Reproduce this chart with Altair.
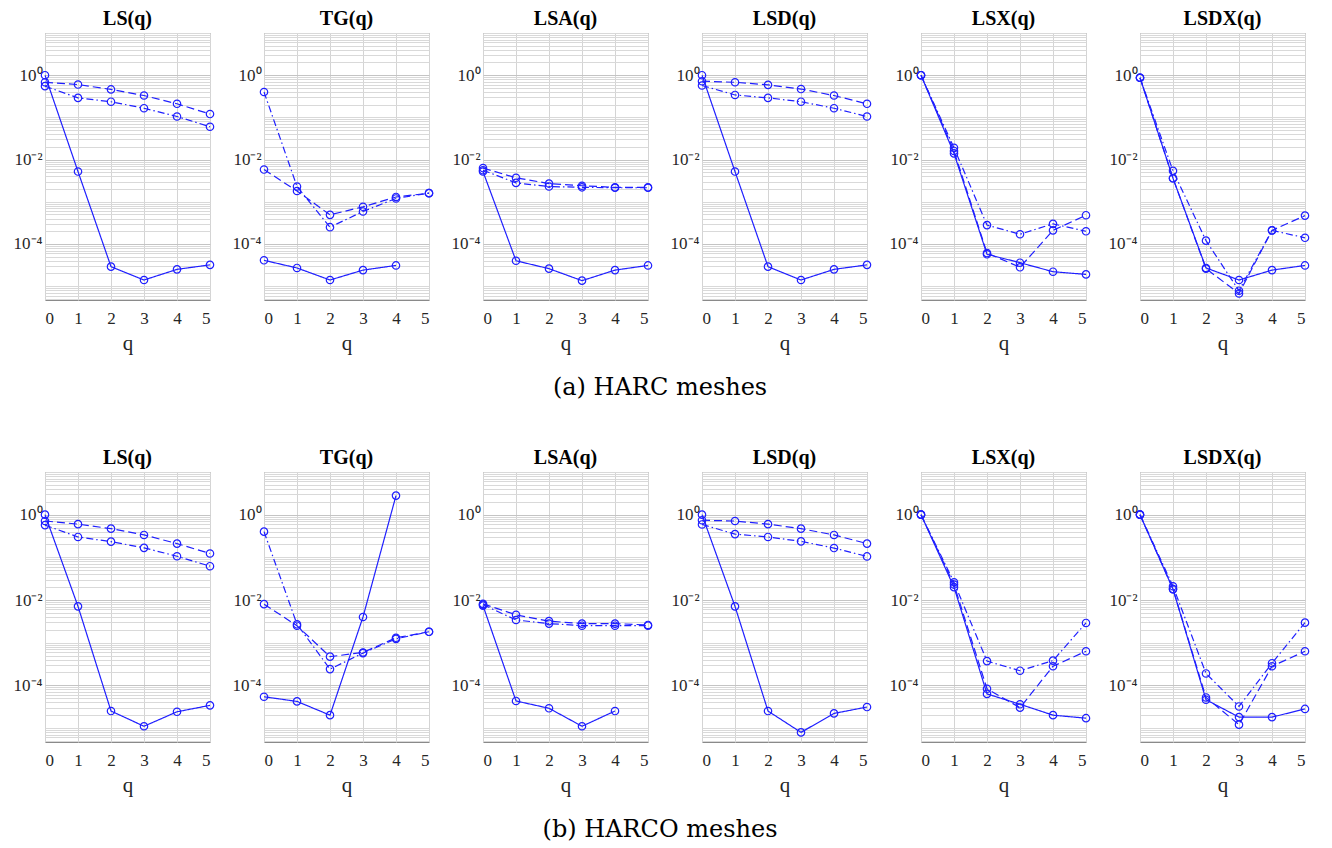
import altair as alt
import pandas as pd

Q = [0, 1, 2, 3, 4, 5]
SERIES = ["solid", "dash", "dashdot"]

# ---- (a) HARC meshes ----
A_LS_solid = [1.0, 5.2e-3, 2.9e-5, 1.4e-5, 2.5e-5, 3.2e-5]
A_LS_dash = [0.68, 0.60, 0.46, 0.33, 0.21, 0.12]
A_LS_dashdot = [0.55, 0.29, 0.235, 0.165, 0.105, 0.06]
A_TG_solid = [4.1e-5, 2.7e-5, 1.4e-5, 2.4e-5, 3.1e-5, None]
A_TG_dash = [5.8e-3, 1.8e-3, 4.9e-4, 7.6e-4, 1.3e-3, 1.6e-3]
A_TG_dashdot = [0.40, 2.3e-3, 2.5e-4, 5.9e-4, 1.2e-3, 1.6e-3]
A_LSA_solid = [5.2e-3, 4.0e-5, 2.6e-5, 1.35e-5, 2.4e-5, 3.1e-5]
A_LSA_dash = [6.3e-3, 3.7e-3, 2.7e-3, 2.4e-3, 2.2e-3, 2.2e-3]
A_LSA_dashdot = [5.6e-3, 2.8e-3, 2.3e-3, 2.2e-3, 2.15e-3, 2.15e-3]
A_LSD_solid = [1.0, 5.2e-3, 2.9e-5, 1.4e-5, 2.5e-5, 3.2e-5]
A_LSD_dash = [0.72, 0.68, 0.59, 0.47, 0.33, 0.21]
A_LSD_dashdot = [0.57, 0.34, 0.29, 0.235, 0.165, 0.105]
A_LSX_solid = [1.0, 1.4e-2, 5.7e-5, 3.6e-5, 2.2e-5, 1.9e-5]
A_LSX_dash = [1.0, 1.6e-2, 6.1e-5, 2.8e-5, 2.1e-4, 4.8e-4]
A_LSX_dashdot = [1.0, 1.9e-2, 2.8e-4, 1.7e-4, 3.0e-4, 2.0e-4]
A_LSDX_solid = [0.87, 3.6e-3, 2.7e-5, 1.4e-5, 2.4e-5, 3.1e-5]
A_LSDX_dash = [0.87, 3.6e-3, 2.6e-5, 6.7e-6, 2.1e-4, 4.7e-4]
A_LSDX_dashdot = [0.87, 5.4e-3, 1.2e-4, 7.8e-6, 2.1e-4, 1.4e-4]

# ---- (b) HARCO meshes ----
B_LS_solid = [1.0, 7.1e-3, 2.5e-5, 1.1e-5, 2.4e-5, 3.4e-5]
B_LS_dash = [0.71, 0.60, 0.47, 0.335, 0.21, 0.123]
B_LS_dashdot = [0.57, 0.30, 0.233, 0.167, 0.106, 0.062]
B_TG_solid = [5.4e-5, 4.2e-5, 2.0e-5, 4.0e-3, 2.8, None]
B_TG_dash = [8.0e-3, 2.5e-3, 4.7e-4, 5.9e-4, 1.3e-3, 1.8e-3]
B_TG_dashdot = [0.40, 2.7e-3, 2.4e-4, 5.7e-4, 1.23e-3, 1.8e-3]
B_LSA_solid = [7.4e-3, 4.3e-5, 2.9e-5, 1.1e-5, 2.5e-5, None]
B_LSA_dash = [8.1e-3, 4.5e-3, 3.2e-3, 2.8e-3, 2.8e-3, 2.6e-3]
B_LSA_dashdot = [7.8e-3, 3.4e-3, 2.8e-3, 2.5e-3, 2.5e-3, 2.5e-3]
B_LSD_solid = [1.0, 7.1e-3, 2.5e-5, 7.9e-6, 2.2e-5, 3.1e-5]
B_LSD_dash = [0.74, 0.71, 0.60, 0.47, 0.335, 0.21]
B_LSD_dashdot = [0.59, 0.35, 0.30, 0.237, 0.165, 0.105]
B_LSX_solid = [1.0, 2.0e-2, 6.3e-5, 3.6e-5, 2.0e-5, 1.7e-5]
B_LSX_dash = [1.0, 2.3e-2, 8.3e-5, 3.0e-5, 2.8e-4, 6.3e-4]
B_LSX_dashdot = [1.0, 2.6e-2, 3.7e-4, 2.2e-4, 3.8e-4, 2.9e-3]
B_LSDX_solid = [1.0, 1.8e-2, 4.6e-5, 1.8e-5, 1.8e-5, 2.8e-5]
B_LSDX_dash = [1.0, 1.8e-2, 5.2e-5, 1.2e-5, 2.8e-4, 6.3e-4]
B_LSDX_dashdot = [1.0, 2.1e-2, 1.9e-4, 3.2e-5, 3.3e-4, 2.95e-3]

TITLES = ["LS(q)", "TG(q)", "LSA(q)", "LSD(q)", "LSX(q)", "LSDX(q)"]
CAPTION_A = "(a) HARC meshes"
CAPTION_B = "(b) HARCO meshes"

Y_LABEL_EXP = [0, -2, -4]
Y_LABEL_TEXT = ["10\u2070", "10\u207b\u00b2", "10\u207b\u2074"]
YMIN, YMAX = 4.7e-6, 10.0

BLUE = "#1f1fff"
FONT = "Liberation Serif"
TXT = "#262626"

label_vals = [10.0 ** e for e in Y_LABEL_EXP]
expr = "''"
for e, t in zip(reversed(Y_LABEL_EXP), reversed(Y_LABEL_TEXT)):
    expr = f"round(log(datum.value)/LN10) == {e} ? '{t}' : ({expr})"

major_vals = [10.0 ** k for k in range(-5, 2)]
minor_vals = []
for k in range(-6, 2):
    for m in range(2, 10):
        v = m * 10.0 ** k
        if YMIN <= v <= YMAX:
            minor_vals.append(v)


def panel(title, solid, dash, dashdot, height):
    rows = []
    for name, vals in zip(SERIES, (solid, dash, dashdot)):
        for q, v in zip(Q, vals):
            if v is not None:
                rows.append({"q": q, "v": v, "s": name})
    df = pd.DataFrame(rows)
    xs = alt.X(
        "q:Q",
        scale=alt.Scale(domain=[0, 5], nice=False, zero=False),
        axis=alt.Axis(values=Q, format="d", title="q", grid=True, gridColor="#d4d4d4",
                      ticks=False, domain=False, labelFont=FONT, labelFontSize=17,
                      labelColor=TXT, titleFont=FONT, titleFontSize=21,
                      titleFontWeight="normal", titleColor=TXT, labelPadding=10,
                      titlePadding=6),
    )
    yscale = alt.Scale(type="log", domain=[YMIN, YMAX], nice=False)
    grid = alt.Chart(df).mark_point(opacity=0).encode(
        x=xs,
        y=alt.Y("v:Q", scale=yscale,
                axis=alt.Axis(orient="right", values=minor_vals + major_vals, labels=False,
                              ticks=False, domain=False, grid=True, gridColor="#d9d9d9",
                              title=None, minExtent=0, maxExtent=0)),
    )
    lines = alt.Chart(df).mark_line(color=BLUE, strokeWidth=1.2).encode(
        x=xs,
        y=alt.Y("v:Q", scale=yscale,
                axis=alt.Axis(values=label_vals, labelExpr=expr, grid=True,
                              gridColor="#c4c4c4", ticks=False, domain=False, title=None,
                              minExtent=36, maxExtent=36, labelPadding=3, labelFont=FONT,
                              labelFontSize=17, labelColor=TXT)),
        strokeDash=alt.StrokeDash("s:N", scale=alt.Scale(domain=SERIES,
                                  range=[[1, 0], [8, 4], [7, 3, 1.5, 3]]), legend=None),
        detail="s:N",
    )
    pts = alt.Chart(df).mark_point(shape="circle", filled=False, color=BLUE, size=55,
                                   strokeWidth=1.2, opacity=1).encode(
        x=xs, y=alt.Y("v:Q", scale=yscale, axis=None))
    return alt.layer(grid, lines, pts).resolve_axis(y="independent").properties(
        width=165, height=height,
        title=alt.TitleParams(title, font=FONT, fontSize=20, fontWeight="bold",
                              color="black", offset=4, anchor="middle"))


row_a_data = [
    (A_LS_solid, A_LS_dash, A_LS_dashdot),
    (A_TG_solid, A_TG_dash, A_TG_dashdot),
    (A_LSA_solid, A_LSA_dash, A_LSA_dashdot),
    (A_LSD_solid, A_LSD_dash, A_LSD_dashdot),
    (A_LSX_solid, A_LSX_dash, A_LSX_dashdot),
    (A_LSDX_solid, A_LSDX_dash, A_LSDX_dashdot),
]
row_b_data = [
    (B_LS_solid, B_LS_dash, B_LS_dashdot),
    (B_TG_solid, B_TG_dash, B_TG_dashdot),
    (B_LSA_solid, B_LSA_dash, B_LSA_dashdot),
    (B_LSD_solid, B_LSD_dash, B_LSD_dashdot),
    (B_LSX_solid, B_LSX_dash, B_LSX_dashdot),
    (B_LSDX_solid, B_LSDX_dash, B_LSDX_dashdot),
]


def row(data, caption, height):
    return alt.hconcat(*[panel(t, *d, height) for t, d in zip(TITLES, data)], spacing=10).properties(
        title=alt.TitleParams(caption, orient="bottom", font="DejaVu Serif", fontSize=24,
                              fontWeight="normal", color="black", offset=22, anchor="middle"))


chart = alt.vconcat(row(row_a_data, CAPTION_A, 267), row(row_b_data, CAPTION_B, 270),
                    spacing=47).properties(
    padding={"left": 0, "top": 0, "right": 5, "bottom": 0}
).configure_view(stroke="#8a8a8a", strokeWidth=1)

chart.save("out.html", embed_options={"renderer": "svg", "actions": False})
